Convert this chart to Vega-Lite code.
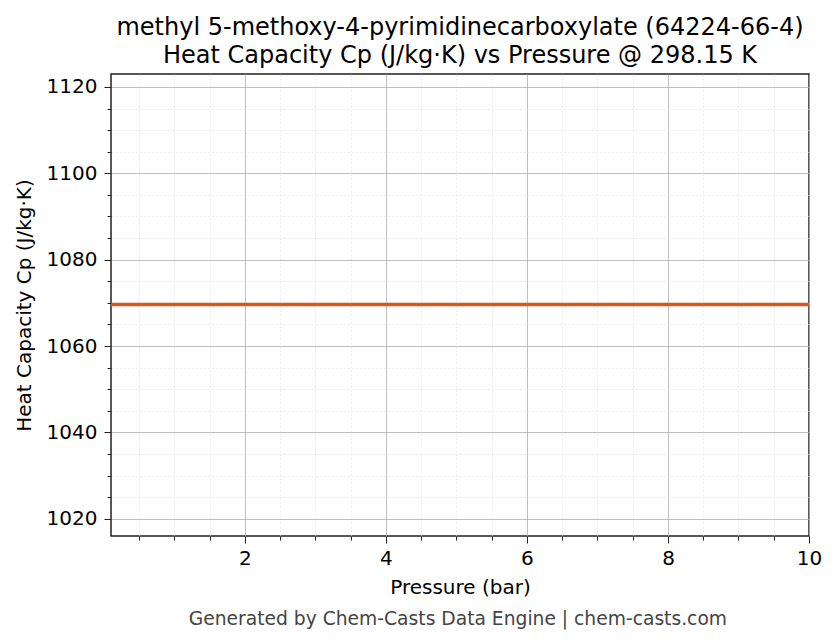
{
  "$schema": "https://vega.github.io/schema/vega-lite/v6.json",
  "padding": {"left": 13, "top": 15, "right": 10, "bottom": 10},
  "background": "white",
  "config": {
    "font": "DejaVu Sans",
    "view": {"stroke": "#222222", "strokeWidth": 1.5},
    "axis": {"domain": false, "labelColor": "#000000", "tickColor": "#222222", "titleColor": "#000000", "titleFontWeight": "normal", "labelFontSize": 20, "titleFontSize": 20, "format": "d"}
  },
  "title": {
    "text": "Generated by Chem-Casts Data Engine | chem-casts.com",
    "orient": "bottom",
    "anchor": "middle",
    "fontSize": 18.7,
    "fontWeight": "normal",
    "color": "#444444",
    "offset": 12,
    "dx": 40
  },
  "vconcat": [
    {
      "title": {
        "text": ["methyl 5-methoxy-4-pyrimidinecarboxylate (64224-66-4)", "Heat Capacity Cp (J/kg·K) vs Pressure @ 298.15 K"],
        "fontSize": 24,
        "fontWeight": "normal",
        "anchor": "middle",
        "frame": "group",
        "lineHeight": 28,
        "color": "#000000",
        "offset": 6
      },
      "width": 698,
      "height": 462,
      "data": {
        "values": [
          {"pressure": 0.1, "cp": 1069.6},
          {"pressure": 1, "cp": 1069.6},
          {"pressure": 2, "cp": 1069.6},
          {"pressure": 3, "cp": 1069.6},
          {"pressure": 4, "cp": 1069.6},
          {"pressure": 5, "cp": 1069.6},
          {"pressure": 6, "cp": 1069.6},
          {"pressure": 7, "cp": 1069.6},
          {"pressure": 8, "cp": 1069.6},
          {"pressure": 9, "cp": 1069.6},
          {"pressure": 10, "cp": 1069.6}
        ]
      },
      "layer": [
        {
          "mark": {"type": "line", "opacity": 0},
          "encoding": {
            "x": {
              "field": "pressure", "type": "quantitative",
              "scale": {"domain": [0.1, 10], "nice": false, "zero": false},
              "axis": {"orient": "bottom", "values": [0.5, 1, 1.5, 2.5, 3, 3.5, 4.5, 5, 5.5, 6.5, 7, 7.5, 8.5, 9, 9.5], "labels": false, "title": null, "tickSize": 4, "grid": true, "gridColor": "#dddddd", "gridDash": [2, 2], "gridWidth": 0.6}
            },
            "y": {
              "field": "cp", "type": "quantitative",
              "scale": {"domain": [1016, 1123], "nice": false, "zero": false},
              "axis": {"orient": "left", "values": [1025, 1030, 1035, 1045, 1050, 1055, 1065, 1070, 1075, 1085, 1090, 1095, 1105, 1110, 1115], "labels": false, "title": null, "tickSize": 4, "grid": true, "gridColor": "#dddddd", "gridDash": [2, 2], "gridWidth": 0.6}
            }
          }
        },
        {
          "mark": {"type": "line", "opacity": 0},
          "encoding": {
            "x": {
              "field": "pressure", "type": "quantitative",
              "scale": {"domain": [0.1, 10], "nice": false, "zero": false},
              "axis": {"orient": "bottom", "values": [2, 4, 6, 8, 10], "title": "Pressure (bar)", "tickSize": 7, "labelPadding": 5, "titlePadding": 9, "grid": true, "gridColor": "#b0b0b0", "gridWidth": 0.8, "labelFlush": false}
            },
            "y": {
              "field": "cp", "type": "quantitative",
              "scale": {"domain": [1016, 1123], "nice": false, "zero": false},
              "axis": {"orient": "left", "values": [1020, 1040, 1060, 1080, 1100, 1120], "title": "Heat Capacity Cp (J/kg·K)", "tickSize": 7, "labelPadding": 7, "titlePadding": 12, "grid": true, "gridColor": "#b0b0b0", "gridWidth": 0.8}
            }
          }
        },
        {
          "mark": {"type": "line", "color": "#dc5420", "strokeWidth": 3.5},
          "encoding": {
            "x": {"field": "pressure", "type": "quantitative", "scale": {"domain": [0.1, 10], "nice": false, "zero": false}, "axis": null},
            "y": {"field": "cp", "type": "quantitative", "scale": {"domain": [1016, 1123], "nice": false, "zero": false}, "axis": null}
          }
        }
      ],
      "resolve": {"axis": {"x": "independent", "y": "independent"}}
    }
  ]
}
